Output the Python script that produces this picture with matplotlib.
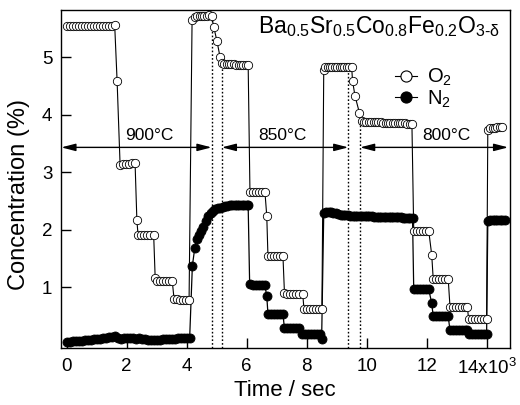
import matplotlib
matplotlib.use("Agg")
import matplotlib.pyplot as plt
from matplotlib.lines import Line2D

plt.rcParams['font.family'] = ['Liberation Sans', 'DejaVu Sans']
plt.rcParams['mathtext.fontset'] = 'custom'
plt.rcParams['mathtext.rm'] = 'Liberation Sans'
plt.rcParams['mathtext.it'] = 'Liberation Sans'
plt.rcParams['mathtext.bf'] = 'Liberation Sans:bold'

# ---------------- data (time in 10^3 s, concentration in %) ----------------
o2_time = [0.0, 0.1, 0.2, 0.3, 0.4, 0.5, 0.6, 0.7, 0.8, 0.9, 1.0, 1.1, 1.2, 1.3, 1.4, 1.5, 1.6,
           1.68,
           1.78, 1.88, 1.98, 2.08, 2.18, 2.28,
           2.34,
           2.38, 2.48, 2.58, 2.68, 2.78, 2.90,
           2.95,
           3.02, 3.12, 3.22, 3.32, 3.42, 3.52,
           3.58, 3.68, 3.78, 3.88, 3.98, 4.08,
           4.18, 4.27, 4.35, 4.43, 4.51, 4.59, 4.67, 4.75, 4.83,
           4.90, 5.01, 5.11,
           5.17, 5.25, 5.33, 5.41, 5.49, 5.57, 5.65, 5.73, 5.81, 5.89, 5.97, 6.05,
           6.11, 6.21, 6.31, 6.41, 6.51, 6.61,
           6.67,
           6.71, 6.81, 6.91, 7.01, 7.11, 7.21,
           7.26, 7.36, 7.46, 7.56, 7.66, 7.76, 7.87,
           7.91, 8.01, 8.11, 8.21, 8.31, 8.41, 8.51,
           8.57, 8.62, 8.70, 8.78, 8.86, 8.94, 9.02, 9.10, 9.18, 9.26, 9.34, 9.42, 9.50,
           9.53, 9.61, 9.76,
           9.83, 9.91, 9.99, 10.07, 10.15, 10.23, 10.31, 10.39, 10.47, 10.55, 10.63, 10.71,
           10.79, 10.87, 10.95, 11.03, 11.11, 11.19, 11.27, 11.35, 11.43, 11.51,
           11.57, 11.67, 11.77, 11.87, 11.97, 12.07,
           12.17,
           12.22, 12.32, 12.42, 12.52, 12.62, 12.72,
           12.78, 12.88, 12.98, 13.08, 13.18, 13.28, 13.36,
           13.40, 13.50, 13.60, 13.70, 13.80, 13.90, 14.00,
           14.04, 14.12, 14.20, 14.28, 14.36, 14.44, 14.52]
o2_conc = [5.55, 5.54, 5.55, 5.55, 5.54, 5.55, 5.55, 5.55, 5.55, 5.54, 5.55, 5.55, 5.55, 5.55, 5.55, 5.55, 5.56,
           4.59,
           3.13, 3.14, 3.14, 3.14, 3.15, 3.15,
           2.16,
           1.90, 1.90, 1.90, 1.90, 1.90, 1.90,
           1.16,
           1.11, 1.11, 1.10, 1.10, 1.10, 1.10,
           0.79, 0.79, 0.78, 0.78, 0.78, 0.78,
           5.64, 5.69, 5.71, 5.71, 5.71, 5.72, 5.72, 5.73, 5.72,
           5.53, 5.28, 5.01,
           4.90, 4.88, 4.88, 4.88, 4.88, 4.88, 4.87, 4.87, 4.87, 4.87, 4.87, 4.87,
           2.65, 2.65, 2.65, 2.65, 2.65, 2.65,
           2.24,
           1.54, 1.54, 1.54, 1.54, 1.54, 1.54,
           0.90, 0.88, 0.88, 0.88, 0.88, 0.88, 0.88,
           0.62, 0.62, 0.62, 0.62, 0.62, 0.62, 0.62,
           4.78, 4.82, 4.83, 4.83, 4.83, 4.83, 4.83, 4.83, 4.83, 4.83, 4.83, 4.83, 4.83,
           4.59, 4.33, 4.03,
           3.89, 3.88, 3.88, 3.88, 3.87, 3.87, 3.87, 3.87, 3.87, 3.86, 3.86, 3.86,
           3.86, 3.86, 3.85, 3.85, 3.85, 3.85, 3.85, 3.84, 3.84, 3.84,
           1.98, 1.98, 1.98, 1.98, 1.98, 1.98,
           1.56,
           1.14, 1.14, 1.14, 1.14, 1.14, 1.14,
           0.65, 0.65, 0.65, 0.65, 0.65, 0.65, 0.65,
           0.44, 0.44, 0.44, 0.44, 0.44, 0.44, 0.44,
           3.74, 3.76, 3.77, 3.77, 3.78, 3.78, 3.78]

n2_time = [0.0, 0.1, 0.2, 0.3, 0.4, 0.5, 0.6, 0.7, 0.8, 0.9, 1.0, 1.1, 1.2, 1.3, 1.4, 1.5, 1.6,
           1.7, 1.8, 1.9, 2.0, 2.1, 2.2, 2.3, 2.4, 2.5, 2.6, 2.7, 2.8, 2.9, 3.0, 3.1, 3.2,
           3.3, 3.4, 3.5, 3.6, 3.7, 3.8, 3.9, 4.0, 4.1,
           4.19, 4.27, 4.33, 4.40, 4.48, 4.56, 4.64, 4.72, 4.80, 4.88, 4.96, 5.04, 5.12,
           5.20, 5.28, 5.36, 5.44, 5.52, 5.60, 5.68, 5.76, 5.84, 5.92, 6.00, 6.05,
           6.10, 6.20, 6.30, 6.40, 6.50, 6.60,
           6.67,
           6.71, 6.81, 6.91, 7.01, 7.11, 7.21,
           7.26, 7.36, 7.46, 7.56, 7.66, 7.76,
           7.86, 7.96, 8.06, 8.16, 8.26, 8.36, 8.44,
           8.50,
           8.57, 8.65, 8.73, 8.81, 8.89, 8.97, 9.05, 9.13, 9.21, 9.29, 9.37, 9.45, 9.53,
           9.61, 9.69, 9.77, 9.85, 9.93, 10.01, 10.09, 10.17, 10.25, 10.33, 10.41, 10.49,
           10.57, 10.65, 10.73, 10.81, 10.89, 10.97, 11.05, 11.13, 11.21, 11.29, 11.37,
           11.45, 11.53,
           11.57, 11.67, 11.77, 11.87, 11.97, 12.07,
           12.17,
           12.22, 12.32, 12.42, 12.52, 12.62, 12.72,
           12.78, 12.88, 12.98, 13.08, 13.18, 13.28, 13.36,
           13.40, 13.50, 13.60, 13.70, 13.80, 13.90, 14.00,
           14.04, 14.12, 14.20, 14.28, 14.36, 14.44, 14.52, 14.60]
n2_conc = [0.05, 0.05, 0.055, 0.06, 0.065, 0.07, 0.075, 0.08, 0.085, 0.09, 0.095, 0.10, 0.11, 0.12, 0.13, 0.14, 0.15,
           0.12, 0.10, 0.11, 0.12, 0.12, 0.11, 0.10, 0.11, 0.10, 0.09, 0.085, 0.08, 0.08, 0.08, 0.085, 0.09,
           0.09, 0.095, 0.10, 0.10, 0.11, 0.11, 0.12, 0.12, 0.12,
           1.37, 1.68, 1.83, 1.91, 1.97, 2.05, 2.15, 2.23, 2.29, 2.32, 2.35, 2.37, 2.38,
           2.40, 2.41, 2.41, 2.42, 2.42, 2.43, 2.43, 2.43, 2.43, 2.43, 2.43, 2.42,
           1.05, 1.04, 1.04, 1.04, 1.04, 1.04,
           0.85,
           0.53, 0.53, 0.53, 0.53, 0.53, 0.53,
           0.28, 0.28, 0.28, 0.28, 0.28, 0.28,
           0.19, 0.19, 0.19, 0.19, 0.19, 0.19, 0.19,
           0.10,
           2.29, 2.31, 2.31, 2.30, 2.29, 2.28, 2.27, 2.26, 2.26, 2.25, 2.25, 2.24, 2.24,
           2.23, 2.23, 2.23, 2.23, 2.23, 2.23, 2.23, 2.23, 2.22, 2.22, 2.22, 2.22,
           2.22, 2.22, 2.22, 2.22, 2.22, 2.22, 2.22, 2.22, 2.21, 2.21, 2.21,
           2.21, 2.21,
           0.97, 0.96, 0.96, 0.96, 0.96, 0.96,
           0.72,
           0.49, 0.49, 0.49, 0.49, 0.49, 0.49,
           0.245, 0.245, 0.245, 0.245, 0.245, 0.245, 0.245,
           0.175, 0.175, 0.175, 0.175, 0.175, 0.175, 0.175,
           2.15, 2.16, 2.16, 2.16, 2.16, 2.16, 2.16, 2.16]

x_ticks = [0, 2, 4, 6, 8, 10, 12, 14]
x_tick_labels = ['0', '2', '4', '6', '8', '10', '12', '14x10$^{3}$']
y_ticks = [1, 2, 3, 4, 5]

# gas-switch boundaries (dotted lines) and temperature stages
switch_times = [4.83, 5.17, 9.39, 9.78]
switch_tops = [5.68, 4.93, 4.78, 3.98]
stage_labels = ['900°C', '850°C', '800°C']
stage_spans = [(-0.18, 4.83), (5.17, 9.39), (9.78, 14.72)]
stage_label_x = [2.75, 7.2, 12.67]
stage_y = 3.43

# ---------------- figure ----------------
fig = plt.figure(figsize=(5.2, 4.05), dpi=100)
ax = fig.add_axes([60.7 / 520, 1 - 348 / 405, (510 - 60.7) / 520, (348 - 10) / 405])

ax.plot(n2_time, n2_conc, '-', color='black', lw=0.9, marker='o', ms=6.5,
        mfc='black', mec='black', mew=0.6, zorder=3)
ax.plot(o2_time, o2_conc, '-', color='black', lw=0.8, marker='o', ms=6.0,
        mfc='white', mec='black', mew=0.6, zorder=4)

ax.set_xlim(-0.2, 14.78)
ax.set_ylim(-0.06, 5.82)

for xs, top in zip(switch_times, switch_tops):
    ax.vlines(xs, -0.06, top, colors='black', linestyles=(0, (1.2, 1.5)), lw=1.0, zorder=2)

for (x0, x1), lab, lx in zip(stage_spans, stage_labels, stage_label_x):
    ax.annotate('', xy=(x1, stage_y), xytext=(x0, stage_y),
                arrowprops=dict(arrowstyle='<|-|>,head_length=0.85,head_width=0.22',
                                color='black', lw=1.0, shrinkA=0, shrinkB=0),
                zorder=5)
    ax.text(lx, stage_y + 0.07, lab, ha='center', va='bottom', fontsize=12.5)

ax.set_xticks(x_ticks)
ax.set_xticklabels(x_tick_labels)
ax.set_yticks(y_ticks)
ax.tick_params(axis='both', direction='in', length=7, width=1, labelsize=13.5, pad=6)
ax.tick_params(axis='x', pad=7)
for s in ax.spines.values():
    s.set_linewidth(1.0)

ax.set_xlabel('Time / sec', fontsize=16, labelpad=1.5)
ax.set_ylabel('Concentration (%)', fontsize=17, labelpad=8)
ax.yaxis.set_label_coords(-0.068, 0.455)

ax.text(0.439, 0.932, r'Ba$_{0.5}$Sr$_{0.5}$Co$_{0.8}$Fe$_{0.2}$O$_{3\text{-}\delta}$',
        transform=ax.transAxes, ha='left', va='baseline', fontsize=16.5)

handles = [Line2D([], [], color='black', lw=0.8, marker='o', ms=8, mfc='white', mec='black', mew=0.8),
           Line2D([], [], color='black', lw=0.8, marker='o', ms=8, mfc='black', mec='black', mew=0.8)]
ax.legend(handles, ['O$_2$', 'N$_2$'], loc='upper left', bbox_to_anchor=(0.745, 0.831),
          frameon=False, fontsize=14.5, handlelength=1.05, handletextpad=0.5,
          labelspacing=0.0, borderaxespad=0, borderpad=0)

fig.savefig('out.png', dpi=100)
